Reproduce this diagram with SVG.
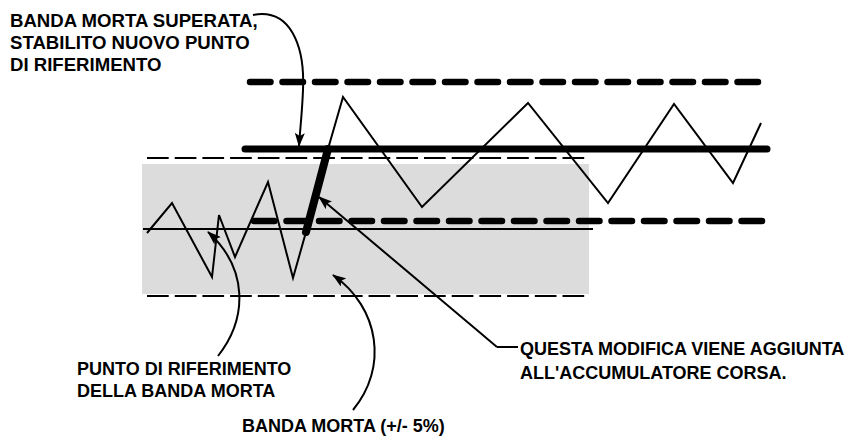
<svg xmlns="http://www.w3.org/2000/svg" width="847" height="436" viewBox="0 0 847 436">
<defs>
<style>
.lbl{font-family:"Liberation Sans",Arial,sans-serif;font-weight:bold;font-size:18px;fill:#000}
.big{font-size:18.6px}
.thin{fill:none;stroke:#000;stroke-width:2}
.tdash{fill:none;stroke:#000;stroke-width:2;stroke-dasharray:21.7 6}
.kdash{fill:none;stroke:#000;stroke-width:6.5;stroke-linecap:round;stroke-dasharray:20.5 12}
.lead{fill:none;stroke:#000;stroke-width:2;marker-end:url(#ah)}
</style>
<marker id="ah" viewBox="0 0 14 10" refX="13" refY="5" markerWidth="14" markerHeight="10" markerUnits="userSpaceOnUse" orient="auto">
<path d="M0,0 L14,5 L0,10 L3,5 Z" fill="#000"/>
</marker>
</defs>
<rect x="0" y="0" width="847" height="436" fill="#fff"/>
<g id="band">
<rect x="142" y="164" width="447" height="130" fill="#dcdcdc"/>
<line class="tdash" x1="147" y1="158" x2="585" y2="158"/>
<line class="tdash" x1="147" y1="296" x2="585" y2="296"/>
<line class="thin" x1="143" y1="229" x2="593" y2="229"/>
</g>
<g id="new-band">
<line class="kdash" x1="250" y1="82" x2="762" y2="82"/>
<line x1="245" y1="149" x2="767" y2="149" stroke="#000" stroke-width="7" stroke-linecap="round"/>
<line class="kdash" x1="254" y1="221" x2="766" y2="221"/>
</g>
<g id="signal">
<polyline class="thin" points="147,233 172,203 212,277 219,215 235,257 268,182 293,278 306,232"/>
<line x1="306" y1="232" x2="328" y2="149" stroke="#000" stroke-width="8" stroke-linecap="round"/>
<polyline class="thin" points="328,149 343,97 422,207 528,103 608,203 674,104 733,183 761,123"/>
</g>
<g id="connectors">
<path class="lead" d="M253,15 C290,8 305,45 303,90 C302,115 300,130 299,146"/>
<path class="lead" d="M218,356 C248,318 248,268 208,232"/>
<path class="lead" d="M353,410 C388,368 380,308 333,275"/>
<path class="thin" d="M518,347 L497,347"/>
<path class="lead" d="M497,347 L319,197"/>
</g>
<g id="label-superata">
<text class="lbl big" x="10" y="27">BANDA MORTA SUPERATA,</text>
<text class="lbl big" x="10" y="49">STABILITO NUOVO PUNTO</text>
<text class="lbl big" x="10" y="71">DI RIFERIMENTO</text>
</g>
<g id="label-punto">
<text class="lbl" x="77" y="375">PUNTO DI RIFERIMENTO</text>
<text class="lbl" x="77" y="397">DELLA BANDA MORTA</text>
</g>
<g id="label-banda">
<text class="lbl" x="242" y="432">BANDA MORTA (+/- 5%)</text>
</g>
<g id="label-questa">
<text class="lbl" x="520" y="355">QUESTA MODIFICA VIENE AGGIUNTA</text>
<text class="lbl" x="520" y="379">ALL'ACCUMULATORE CORSA.</text>
</g>
</svg>
